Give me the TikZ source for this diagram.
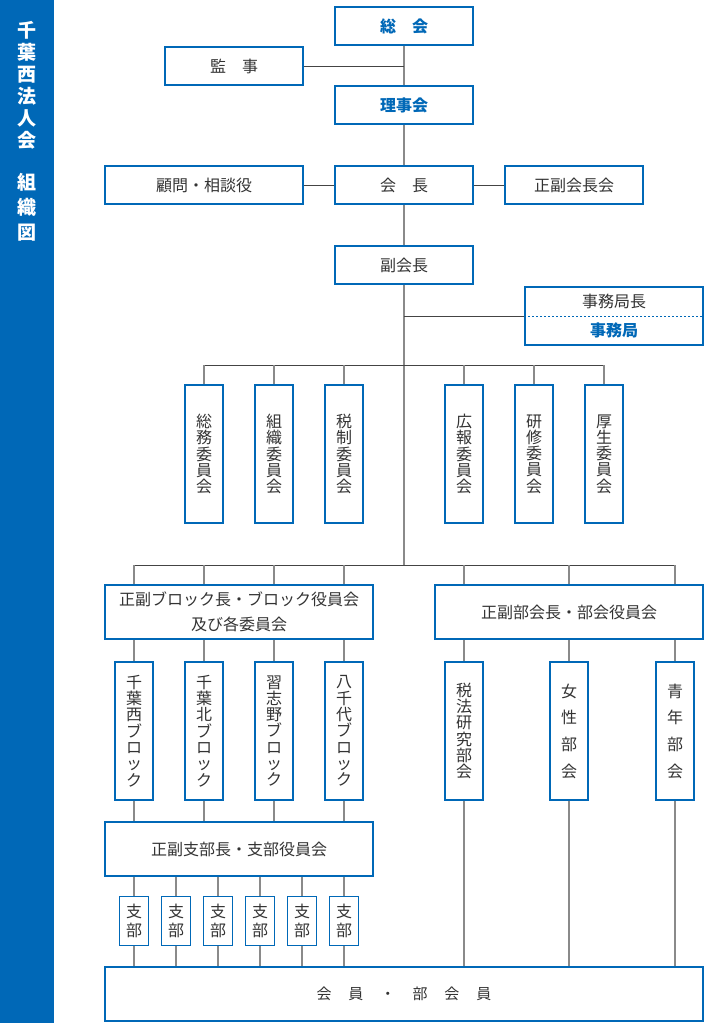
\documentclass[tikz,border=0pt]{standalone}
\usepackage{fontspec}
\setmainfont{Noto Sans CJK JP}
\definecolor{mblue}{HTML}{0068B7}
\definecolor{txt}{HTML}{333333}
\definecolor{vgray}{HTML}{8A8A8A}
\definecolor{hgray}{HTML}{444444}
\begin{document}
\begin{tikzpicture}[x=1pt,y=-1pt,
  box/.style={draw=mblue, line width=1.8pt, fill=white, inner sep=0pt, align=center,
    text=txt, font=\fontsize{16}{16.3}\selectfont},
  bluetxt/.style={text=mblue, font=\fontsize{16}{16.3}\selectfont\bfseries},
  vline/.style={draw=vgray, line width=1.1pt},
  hline/.style={draw=hgray, line width=0.9pt}]
\useasboundingbox (0,0) rectangle (710,1023);
\fill[mblue] (0,0) rectangle (54,1023);
\node[text=white, align=center, font=\fontsize{19}{22}\selectfont\bfseries] (title1) at (27,85) {千\\葉\\西\\法\\人\\会};
\node[text=white, align=center, font=\fontsize{19}{25}\selectfont\bfseries] (title2) at (27,207) {組\\織\\図};

% coordinates for junction rows
\coordinate (h1) at (404,365);
\coordinate (h2) at (404,565);

% top nodes
\node[box, bluetxt, minimum width=138, minimum height=38] (soukai) at (404,26) {総　会};
\node[box, minimum width=138, minimum height=38] (kanji) at (234,66) {監　事};
\node[box, bluetxt, minimum width=138, minimum height=38] (riji) at (404,105) {理事会};
\node[box, minimum width=138, minimum height=38] (kaicho) at (404,185) {会　長};
\node[box, minimum width=198, minimum height=38] (komon) at (204,185) {顧問・相談役};
\node[box, minimum width=138, minimum height=38] (seifuku) at (574,185) {正副会長会};
\node[box, minimum width=138, minimum height=38] (fuku) at (404,265) {副会長};
\node[box, minimum width=178, minimum height=58] (jimu) at (614,316) {};
\node[text=txt, font=\fontsize{16}{16.3}\selectfont] (jimucho) at (614,301) {事務局長};
\node[bluetxt] (jimukyoku) at (614,330) {事務局};

% committees
\foreach \n/\x/\t in {c1/204/総\\務\\委\\員\\会, c2/274/組\\織\\委\\員\\会, c3/344/税\\制\\委\\員\\会,
                      c4/464/広\\報\\委\\員\\会, c5/534/研\\修\\委\\員\\会, c6/604/厚\\生\\委\\員\\会}
  \node[box, minimum width=38, minimum height=138] (\n) at (\x,454) {\t};

% block & bukai
\node[box, minimum width=268, minimum height=54, font=\fontsize{16}{25}\selectfont] (block) at (239,612) {正副ブロック長・ブロック役員会\\及び各委員会};
\node[box, minimum width=268, minimum height=54] (bukai) at (569,612) {正副部会長・部会役員会};

\foreach \n/\x/\t in {b1/134/千\\葉\\西\\ブ\\ロ\\ッ\\ク, b2/204/千\\葉\\北\\ブ\\ロ\\ッ\\ク,
                      b3/274/習\\志\\野\\ブ\\ロ\\ッ\\ク, b4/344/八\\千\\代\\ブ\\ロ\\ッ\\ク}
  \node[box, minimum width=38, minimum height=138, font=\fontsize{16}{16.3}\selectfont] (\n) at (\x,731) {\t};

\node[box, minimum width=38, minimum height=138] (k1) at (464,731) {税\\法\\研\\究\\部\\会};
\node[box, minimum width=38, minimum height=138, font=\fontsize{16}{26.7}\selectfont] (k2) at (569,731) {女\\性\\部\\会};
\node[box, minimum width=38, minimum height=138, font=\fontsize{16}{26.7}\selectfont] (k3) at (675,731) {青\\年\\部\\会};

\node[box, minimum width=268, minimum height=54] (leader) at (239,849) {正副支部長・支部役員会};

\foreach \n/\x in {s1/134, s2/176, s3/218, s4/260, s5/302, s6/344}
  \node[box, minimum width=29, minimum height=49, font=\fontsize{16}{19}\selectfont] (\n) at (\x,921) {支\\部};

\node[box, minimum width=598, minimum height=54, font=\fontsize{15}{16.3}\selectfont] (kaiin) at (404,994)
  {会\hspace{17pt}員\hspace{17pt}・\hspace{17pt}部\hspace{17pt}会\hspace{17pt}員};

% connectors
\draw[vline] (soukai.south) -- (riji.north);
\draw[vline] (riji.south) -- (kaicho.north);
\draw[vline] (kaicho.south) -- (fuku.north);
\draw[vline] (fuku.south) -- (h2);
\draw[hline] (kanji.east) -- (kanji.east -| soukai.south);
\draw[hline] (komon.east) -- (kaicho.west);
\draw[hline] (kaicho.east) -- (seifuku.west);
\draw[hline] (jimu.west -| fuku.south) -- (jimu.west);
\draw[mblue, line width=0.8pt, dash pattern=on 2pt off 2pt] (jimu.west) -- (jimu.east);

\draw[hline] (c1.north |- h1) -- (c6.north |- h1);
\foreach \n in {c1,c2,c3,c4,c5,c6}
  \draw[vline] (\n.north |- h1) -- (\n.north);

\draw[hline] (b1.north |- h2) -- (k3.north |- h2);
\foreach \n in {b1,b2,b3,b4} {
  \draw[vline] (\n.north |- h2) -- (\n.north |- block.north);
  \draw[vline] (\n.north |- block.south) -- (\n.north);
  \draw[vline] (\n.south) -- (\n.south |- leader.north);
}
\foreach \n in {k1,k2,k3} {
  \draw[vline] (\n.north |- h2) -- (\n.north |- bukai.north);
  \draw[vline] (\n.north |- bukai.south) -- (\n.north);
  \draw[vline] (\n.south) -- (\n.south |- kaiin.north);
}
\foreach \n in {s1,s2,s3,s4,s5,s6} {
  \draw[vline] (\n.north |- leader.south) -- (\n.north);
  \draw[vline] (\n.south) -- (\n.south |- kaiin.north);
}
\end{tikzpicture}
\end{document}
